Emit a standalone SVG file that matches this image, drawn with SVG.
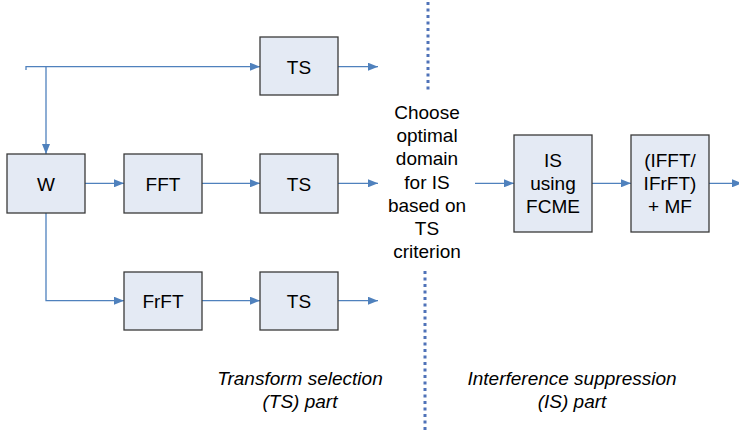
<svg xmlns="http://www.w3.org/2000/svg" width="739" height="430" viewBox="0 0 739 430">
  <style>
    .box { fill: #e4eaf4; stroke: #3a3a3a; stroke-width: 1.3; }
    .lbl { font-family: "Liberation Sans", Arial, sans-serif; font-size: 19px; fill: #000; text-anchor: middle; }
    .it { font-style: italic; }
    .wire { fill: none; stroke: #4f81bd; stroke-width: 1.3; }
    .sep { fill: none; stroke: #4f72b8; stroke-width: 3; stroke-dasharray: 3 3.5; }
  </style>
  <defs>
    <marker id="arr" viewBox="0 0 10 8" refX="10" refY="4" markerWidth="10" markerHeight="8" markerUnits="userSpaceOnUse" orient="auto">
      <path d="M0,0 L10,4 L0,8 Z" fill="#4f81bd"/>
    </marker>
  </defs>

  <!-- section divider -->
  <g id="divider">
    <line class="sep" x1="428" y1="2" x2="428" y2="93"/>
    <line class="sep" x1="425" y1="271" x2="425" y2="430"/>
  </g>

  <!-- connectors -->
  <g id="connectors">
    <path class="wire" d="M26,70 L26,66.7 L260,66.7" marker-end="url(#arr)"/>
    <path class="wire" d="M46,66.7 L46,154" marker-end="url(#arr)"/>
    <path class="wire" d="M338,66.7 L378,66.7" marker-end="url(#arr)"/>
    <path class="wire" d="M85,183.3 L124,183.3" marker-end="url(#arr)"/>
    <path class="wire" d="M202,183.3 L260,183.3" marker-end="url(#arr)"/>
    <path class="wire" d="M338,183.3 L378,183.3" marker-end="url(#arr)"/>
    <path class="wire" d="M46,213 L46,300.7 L124,300.7" marker-end="url(#arr)"/>
    <path class="wire" d="M202,300.7 L260,300.7" marker-end="url(#arr)"/>
    <path class="wire" d="M338,300.7 L378,300.7" marker-end="url(#arr)"/>
    <path class="wire" d="M475,183.3 L514,183.3" marker-end="url(#arr)"/>
    <path class="wire" d="M592,183.3 L631,183.3" marker-end="url(#arr)"/>
    <path class="wire" d="M709,183.3 L742,183.3" marker-end="url(#arr)"/>
  </g>

  <g id="ts-top">
    <rect class="box" x="260" y="37" width="78" height="58"/>
    <text class="lbl" x="299" y="73.5">TS</text>
  </g>
  <g id="w">
    <rect class="box" x="7" y="154" width="78" height="59"/>
    <text class="lbl" x="46" y="190.5">W</text>
  </g>
  <g id="fft">
    <rect class="box" x="124" y="154" width="78" height="59"/>
    <text class="lbl" x="163" y="190.5">FFT</text>
  </g>
  <g id="ts-mid">
    <rect class="box" x="260" y="154" width="78" height="59"/>
    <text class="lbl" x="299" y="190.5">TS</text>
  </g>
  <g id="frft">
    <rect class="box" x="124" y="272" width="78" height="58"/>
    <text class="lbl" x="163" y="307.5">FrFT</text>
  </g>
  <g id="ts-bot">
    <rect class="box" x="260" y="272" width="78" height="58"/>
    <text class="lbl" x="299" y="307.5">TS</text>
  </g>

  <g id="choose">
    <text class="lbl" x="427" y="119">Choose</text>
    <text class="lbl" x="427" y="142">optimal</text>
    <text class="lbl" x="427" y="165">domain</text>
    <text class="lbl" x="427" y="189">for IS</text>
    <text class="lbl" x="427" y="212">based on</text>
    <text class="lbl" x="427" y="235">TS</text>
    <text class="lbl" x="427" y="258">criterion</text>
  </g>

  <g id="is-fcme">
    <rect class="box" x="514" y="135" width="78" height="97"/>
    <text class="lbl" x="553" y="167">IS</text>
    <text class="lbl" x="553" y="190">using</text>
    <text class="lbl" x="553" y="213">FCME</text>
  </g>
  <g id="ifft-mf">
    <rect class="box" x="631" y="135" width="78" height="97"/>
    <text class="lbl" x="670" y="167">(IFFT/</text>
    <text class="lbl" x="670" y="190">IFrFT)</text>
    <text class="lbl" x="670" y="213">+ MF</text>
  </g>

  <g id="captions">
    <text class="lbl it" x="300" y="385">Transform selection</text>
    <text class="lbl it" x="300" y="408">(TS) part</text>
    <text class="lbl it" x="572" y="385">Interference suppression</text>
    <text class="lbl it" x="572" y="408">(IS) part</text>
  </g>
</svg>
